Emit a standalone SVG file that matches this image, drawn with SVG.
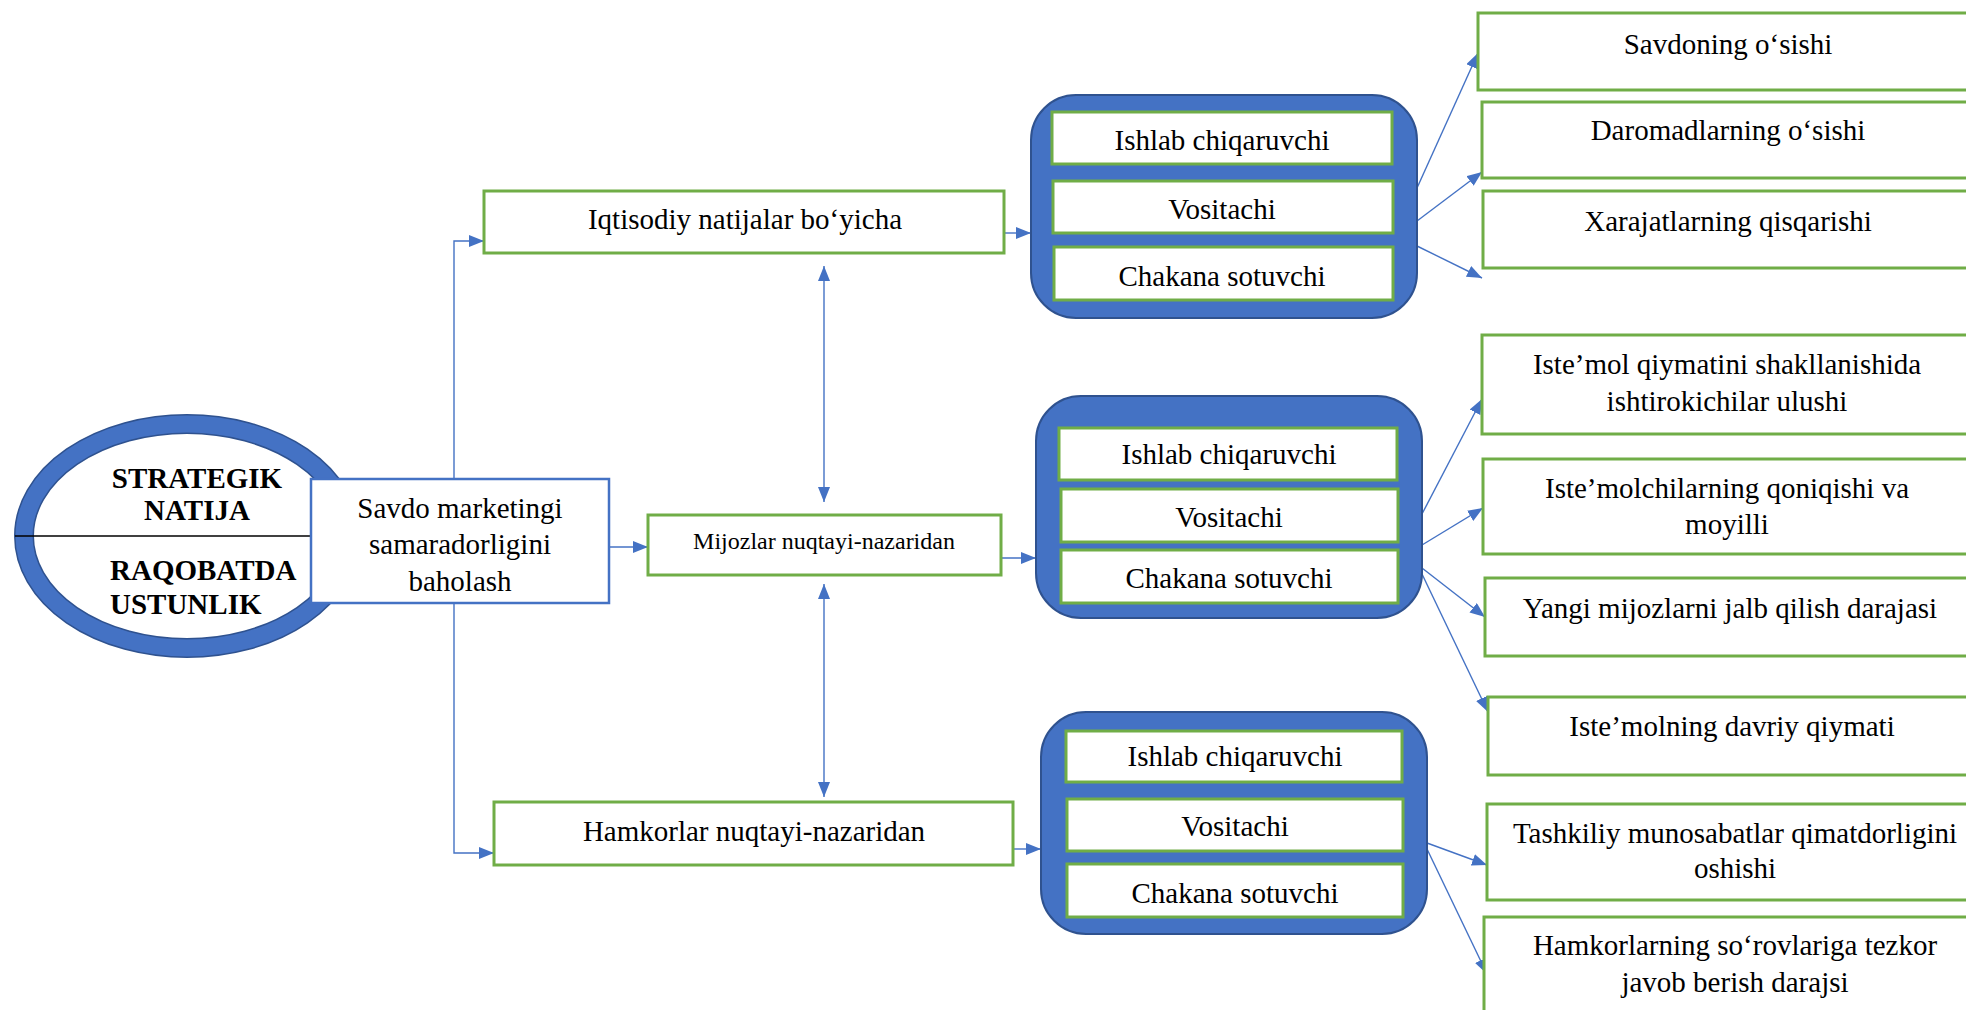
<svg xmlns="http://www.w3.org/2000/svg" width="1966" height="1010" viewBox="0 0 1966 1010">
  <defs>
    <style>
      .t { font-family: "Liberation Serif", "Times New Roman", serif; font-size: 29px; fill: #000; text-anchor: middle; }
      .b { font-weight: bold; }
      .g { fill: #fff; stroke: #70AD47; stroke-width: 3; }
      .c { fill: #4472C4; stroke: #2F528F; stroke-width: 2; }
      .ln { fill: none; stroke: #4472C4; stroke-width: 1.4; }
      .ar { marker-end: url(#ah); }
      .dar { marker-end: url(#ah); marker-start: url(#ah); }
    </style>
    <marker id="ah" markerUnits="userSpaceOnUse" markerWidth="16" markerHeight="12" refX="15" refY="6" orient="auto-start-reverse">
      <path d="M0,0 L15,6 L0,12 z" fill="#4472C4"/>
    </marker>
  </defs>

  <rect width="1966" height="1010" fill="#fff"/>

  <!-- Connectors -->
  <g id="connectors">
    <path class="ln ar" d="M454,600 V241 H484"/>
    <path class="ln ar" d="M454,600 V853 H494"/>
    <path class="ln ar" d="M609,547 H648"/>
    <path class="ln dar" d="M824,266 V502"/>
    <path class="ln dar" d="M824,584 V797"/>
    <path class="ln ar" d="M1004,233 H1031"/>
    <path class="ln ar" d="M1001,558 H1036"/>
    <path class="ln ar" d="M1013,849 H1041"/>
    <path class="ln ar" d="M1417,188 L1478,53"/>
    <path class="ln ar" d="M1417,221 L1482,172"/>
    <path class="ln ar" d="M1417,246 L1482,278"/>
    <path class="ln ar" d="M1422,514 L1482,399"/>
    <path class="ln ar" d="M1422,545 L1483,508"/>
    <path class="ln ar" d="M1422,568 L1485,617"/>
    <path class="ln ar" d="M1422,574 L1488,712"/>
    <path class="ln ar" d="M1427,843 L1487,865"/>
    <path class="ln ar" d="M1427,849 L1487,974"/>
  </g>

  <!-- Strategic result ellipse: dark outline under a lighter blue ring -->
  <g id="strategik">
    <ellipse cx="187" cy="536" rx="163" ry="112" fill="#fff" stroke="#2F528F" stroke-width="20"/>
    <ellipse cx="187" cy="536" rx="163" ry="112" fill="none" stroke="#4472C4" stroke-width="17"/>
    <line x1="15" y1="536" x2="311" y2="536" stroke="#000" stroke-width="1.5"/>
    <text class="t b" x="197" y="488">STRATEGIK</text>
    <text class="t b" x="197" y="520">NATIJA</text>
    <text class="t b" x="110" y="580" style="text-anchor:start">RAQOBATDA</text>
    <text class="t b" x="110" y="614" style="text-anchor:start">USTUNLIK</text>
  </g>

  <g id="baholash">
    <rect x="311" y="479" width="298" height="124" fill="#fff" stroke="#4472C4" stroke-width="2.5"/>
    <text class="t" x="460" y="518">Savdo marketingi</text>
    <text class="t" x="460" y="554">samaradorligini</text>
    <text class="t" x="460" y="591">baholash</text>
  </g>

  <!-- Perspective boxes -->
  <g id="iqtisodiy">
    <rect class="g" x="484" y="191" width="520" height="62"/>
    <text class="t" x="745" y="229">Iqtisodiy natijalar bo‘yicha</text>
  </g>
  <g id="mijozlar">
    <rect class="g" x="648" y="515" width="353" height="60"/>
    <text class="t" x="824" y="549" style="font-size:24px">Mijozlar nuqtayi-nazaridan</text>
  </g>
  <g id="hamkorlar">
    <rect class="g" x="494" y="802" width="519" height="63"/>
    <text class="t" x="754" y="841">Hamkorlar nuqtayi-nazaridan</text>
  </g>

  <!-- Participant containers -->
  <g id="ishtirokchilar-1">
    <rect class="c" x="1031" y="95" width="386" height="223" rx="45"/>
    <rect class="g" x="1052" y="112" width="340" height="52"/>
    <rect class="g" x="1053" y="181" width="340" height="52"/>
    <rect class="g" x="1054" y="247" width="339" height="53"/>
    <text class="t" x="1222" y="150">Ishlab chiqaruvchi</text>
    <text class="t" x="1222" y="219">Vositachi</text>
    <text class="t" x="1222" y="286">Chakana sotuvchi</text>
  </g>
  <g id="ishtirokchilar-2">
    <rect class="c" x="1036" y="396" width="386" height="222" rx="45"/>
    <rect class="g" x="1059" y="428" width="338" height="52"/>
    <rect class="g" x="1061" y="489" width="337" height="53"/>
    <rect class="g" x="1061" y="550" width="337" height="53"/>
    <text class="t" x="1229" y="464">Ishlab chiqaruvchi</text>
    <text class="t" x="1229" y="527">Vositachi</text>
    <text class="t" x="1229" y="588">Chakana sotuvchi</text>
  </g>
  <g id="ishtirokchilar-3">
    <rect class="c" x="1041" y="712" width="386" height="222" rx="45"/>
    <rect class="g" x="1066" y="731" width="336" height="51"/>
    <rect class="g" x="1067" y="799" width="336" height="52"/>
    <rect class="g" x="1067" y="864" width="336" height="53"/>
    <text class="t" x="1235" y="766">Ishlab chiqaruvchi</text>
    <text class="t" x="1235" y="836">Vositachi</text>
    <text class="t" x="1235" y="903">Chakana sotuvchi</text>
  </g>

  <!-- Indicators -->
  <g id="savdo-osishi">
    <rect class="g" x="1478" y="13" width="520" height="77"/>
    <text class="t" x="1728" y="54">Savdoning o‘sishi</text>
  </g>
  <g id="daromad-osishi">
    <rect class="g" x="1482" y="102" width="520" height="76"/>
    <text class="t" x="1728" y="140">Daromadlarning o‘sishi</text>
  </g>
  <g id="xarajat-qisqarishi">
    <rect class="g" x="1483" y="191" width="520" height="77"/>
    <text class="t" x="1728" y="231">Xarajatlarning qisqarishi</text>
  </g>
  <g id="istemol-ulushi">
    <rect class="g" x="1482" y="335" width="520" height="99"/>
    <text class="t" x="1727" y="374">Iste’mol qiymatini shakllanishida</text>
    <text class="t" x="1727" y="411">ishtirokichilar ulushi</text>
  </g>
  <g id="qoniqish">
    <rect class="g" x="1483" y="459" width="520" height="95"/>
    <text class="t" x="1727" y="498">Iste’molchilarning qoniqishi va</text>
    <text class="t" x="1727" y="534">moyilli</text>
  </g>
  <g id="yangi-mijozlar">
    <rect class="g" x="1485" y="578" width="520" height="78"/>
    <text class="t" x="1730" y="618">Yangi mijozlarni jalb qilish darajasi</text>
  </g>
  <g id="davriy-qiymat">
    <rect class="g" x="1488" y="697" width="520" height="78"/>
    <text class="t" x="1732" y="736">Iste’molning davriy qiymati</text>
  </g>
  <g id="tashkiliy">
    <rect class="g" x="1487" y="804" width="520" height="96"/>
    <text class="t" x="1735" y="843">Tashkiliy munosabatlar qimatdorligini</text>
    <text class="t" x="1735" y="878">oshishi</text>
  </g>
  <g id="tezkor-javob">
    <rect class="g" x="1484" y="917" width="520" height="110"/>
    <text class="t" x="1735" y="955">Hamkorlarning so‘rovlariga tezkor</text>
    <text class="t" x="1735" y="992">javob berish darajsi</text>
  </g>
</svg>
